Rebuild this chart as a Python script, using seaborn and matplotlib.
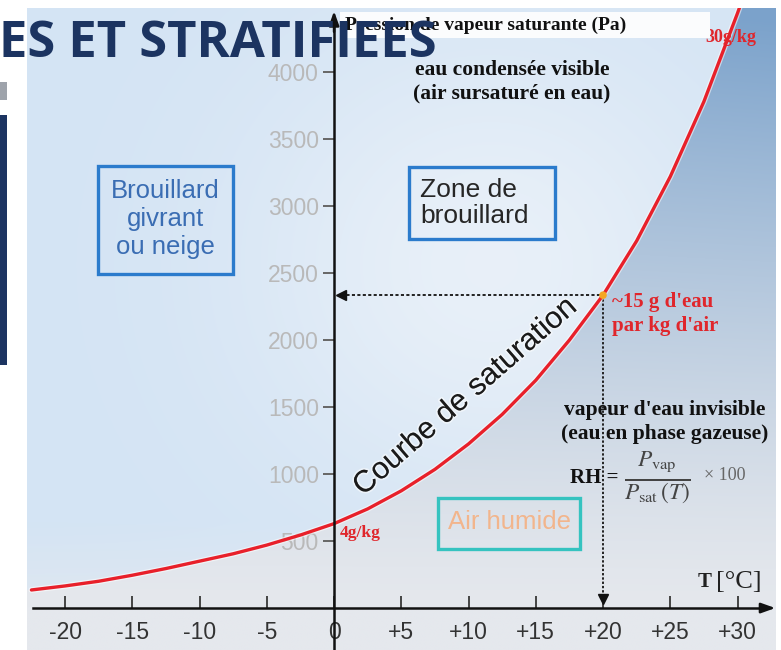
import numpy as np
import matplotlib
matplotlib.use("Agg")
import matplotlib.pyplot as plt
import matplotlib.patheffects as pe
from matplotlib.colors import to_rgb
from matplotlib.patches import Rectangle, PathPatch
from matplotlib.path import Path
import seaborn as sns

# Saturation vapour pressure of water (Pa) against temperature (°C)
temperature_c = [-22.5, -20, -17.5, -15, -12.5, -10, -7.5, -5, -2.5, 0, 2.5, 5,
                 7.5, 10, 12.5, 15, 17.5, 20, 22.5, 25, 27.5, 30, 31]
saturation_pa = [135, 165, 200, 245, 295, 350, 405, 470, 545, 630, 740, 875,
                 1035, 1225, 1445, 1700, 2000, 2335, 2740, 3220, 3780, 4440, 4720]

x_ticks = [-20, -15, -10, -5, 0, 5, 10, 15, 20, 25, 30]
x_tick_labels = ["-20", "-15", "-10", "-5", "0", "+5", "+10", "+15", "+20", "+25", "+30"]
y_ticks = [500, 1000, 1500, 2000, 2500, 3000, 3500, 4000]
y_tick_labels = ["500", "1000", "1500", "2000", "2500", "3000", "3500", "4000"]

reference_temp = 20
reference_pressure = saturation_pa[temperature_c.index(reference_temp)]

sns.set_theme(style="white")
plt.rcParams["font.family"] = ["Liberation Sans", "DejaVu Sans"]
plt.rcParams["mathtext.fontset"] = "stix"

W, H = 781, 650
fig = plt.figure(figsize=(W / 100, H / 100), dpi=100)
fig.patch.set_facecolor("white")


def F(x, y):
    """figure fraction from pixel position (origin top-left)"""
    return x / W, 1 - y / H


x_min, x_max = -22.83, 32.86
y_min, y_max = -313, 4478
ax = fig.add_axes([27 / W, 0, 749 / W, 642 / H])
ax.set_xlim(x_min, x_max)
ax.set_ylim(y_min, y_max)


def lerp(c1, c2, t):
    a = np.array(to_rgb(c1))
    b = np.array(to_rgb(c2))
    return a + (b - a) * t[..., None]


# sky background
gx = np.linspace(x_min, x_max, 400)
gy = np.linspace(y_min, y_max, 400)
GX, GY = np.meshgrid(gx, gy)
u = (GX - x_min) / (x_max - x_min)
v = (GY - y_min) / (y_max - y_min)
glow = 0.75 * np.exp(-((u - 0.62) / 0.32) ** 2 - ((v - 0.6) / 0.35) ** 2)
sky = lerp("#d4e4f4", "#eff4fa", np.clip(glow, 0, 1))
haze = np.clip((0.2 - v) / 0.2, 0, 1)
sky = sky * (1 - haze[..., None] * 0.8) + np.array(to_rgb("#e8eaee")) * haze[..., None] * 0.8
ax.imshow(sky, extent=[x_min, x_max, y_min, y_max], origin="lower",
          aspect="auto", zorder=0, interpolation="bilinear")

# unsaturated region (below / right of the curve)
depth = np.clip(GY / 4400, 0, 1) ** 1.3 * (0.85 + 0.15 * u)
under = lerp("#e5e8ed", "#7ba2cb", np.clip(depth, 0, 1))
im = ax.imshow(under, extent=[x_min, x_max, y_min, y_max], origin="lower",
               aspect="auto", zorder=0.5, interpolation="bilinear")
verts = list(zip(temperature_c, saturation_pa)) + [(x_max + 5, y_max + 500),
                                                   (x_max + 5, y_min - 100),
                                                   (x_min - 5, y_min - 100),
                                                   (x_min - 5, saturation_pa[0])]
region = PathPatch(Path(verts + [verts[0]], closed=True), transform=ax.transData,
                   facecolor="none", edgecolor="none")
ax.add_patch(region)
im.set_clip_path(region)

# saturation curve
sns.lineplot(x=temperature_c, y=saturation_pa, ax=ax, color="#e8202a", lw=2.4,
             zorder=4, path_effects=[pe.Stroke(linewidth=4.2, foreground=(1, 1, 1, 0.55)),
                                     pe.Normal()])

# axes through the origin
for side in ("top", "right"):
    ax.spines[side].set_visible(False)
ax.spines["left"].set_position(("data", 0))
ax.spines["bottom"].set_position(("data", 0))
for side in ("left", "bottom"):
    ax.spines[side].set_linewidth(1.8)
    ax.spines[side].set_color("#111111")
    ax.spines[side].set_zorder(5)
ax.spines["left"].set_bounds(y_min, 4380)
ax.spines["bottom"].set_bounds(-22.4, 32.2)
ax.annotate("", xy=(0, 4455), xytext=(0, 4300), annotation_clip=False, zorder=6,
            arrowprops=dict(arrowstyle="-|>,head_length=0.7,head_width=0.25",
                            color="#111111", lw=1.8, shrinkA=0, shrinkB=0))
ax.annotate("", xy=(x_max - 0.05, 0), xytext=(31.8, 0), annotation_clip=False, zorder=6,
            arrowprops=dict(arrowstyle="-|>,head_length=0.7,head_width=0.25",
                            color="#111111", lw=1.8, shrinkA=0, shrinkB=0))

ax.set_xticks(x_ticks, labels=x_tick_labels)
ax.set_yticks(y_ticks, labels=y_tick_labels)
ax.tick_params(axis="x", bottom=True, direction="in", length=9, width=1.4,
               color="#444444", pad=9, labelsize=16.5, labelcolor="#333333")
ax.tick_params(axis="y", left=True, direction="out", length=8, width=1.4,
               color="#666666", pad=3, labelsize=16.5, labelcolor="#b9b9b9")
ax.grid(False)

# reading of the 20 °C point
ax.plot([0.5, reference_temp], [reference_pressure, reference_pressure],
        ls=(0, (1.6, 1.2)), color="#222222", lw=1.4, zorder=3)
ax.plot([reference_temp, reference_temp], [reference_pressure, 60],
        ls=(0, (1.2, 1.0)), color="#222222", lw=1.4, zorder=3)
ax.plot([0.55], [reference_pressure], marker="<", ms=7, color="#111111", zorder=6)
ax.plot([reference_temp], [70], marker="v", ms=7, color="#111111", zorder=6)
sns.scatterplot(x=[reference_temp], y=[reference_pressure], ax=ax, color="#f5a623",
                s=30, zorder=7, edgecolor="none")

serif = ["Liberation Serif", "DejaVu Serif"]

# zone boxes
for (x0, y0, x1, y1, ec) in [(98, 166, 233, 274, "#2b7bcc"),
                             (409, 167, 555, 239, "#2b7bcc"),
                             (438, 498, 580, 549, "#35c3c0")]:
    fx0, fy1 = F(x0, y1)
    fx1, fy0 = F(x1, y0)
    fig.patches.append(Rectangle((fx0, fy1), fx1 - fx0, fy0 - fy1, transform=fig.transFigure,
                                 fill=False, edgecolor=ec, lw=2.4, zorder=8))

fig.text(*F(165, 219), "Brouillard\ngivrant\nou neige", ha="center", va="center",
         multialignment="center", fontsize=18.5, color="#3a6db3", linespacing=1.2, zorder=9)
fig.text(*F(420, 203), "Zone de\nbrouillard", ha="left", va="center",
         multialignment="left", fontsize=19, color="#262626", linespacing=1.15, zorder=9)
fig.text(*F(509, 522), "Air humide", ha="center", va="center",
         fontsize=18.5, color="#f2b58c", zorder=9)

fig.text(*F(465, 397), "Courbe de saturation", ha="center", va="center", rotation=41,
         rotation_mode="anchor", fontsize=22, color="#1a1a1a", zorder=9,
         path_effects=[pe.withStroke(linewidth=2.5, foreground=(1, 1, 1, 0.5))])

# annotations in serif
fig.text(*F(512, 82), "eau condensée visible\n(air sursaturé en eau)", ha="center",
         va="center", multialignment="center", family=serif, weight="bold",
         fontsize=15.5, color="#111111", linespacing=1.25, zorder=9)
fig.text(*F(665, 422), "vapeur d'eau invisible\n(eau en phase gazeuse)", ha="center",
         va="center", multialignment="center", family=serif, weight="bold",
         fontsize=15.5, color="#111111", linespacing=1.25, zorder=9)
fig.text(*F(612, 314), "~15 g d'eau\npar kg d'air", ha="left", va="center",
         family=serif, weight="bold", fontsize=15, color="#e0262c", linespacing=1.25, zorder=9)
fig.text(*F(340, 533), "4g/kg", ha="left", va="center", family=serif, weight="bold",
         fontsize=12.5, color="#e0262c", zorder=9)
fig.text(*F(705, 38), "30g/kg", ha="left", va="center", family=serif, weight="bold",
         fontsize=13, color="#e0262c", zorder=3)

fig.text(*F(570, 478), "RH =", ha="left", va="center", family=serif, weight="bold",
         fontsize=15, color="#111111", zorder=9)
fig.text(*F(624, 478), r"$\frac{P_{\mathrm{vap}}}{P_{\mathrm{sat}}\,(T)}$", ha="left",
         va="center", fontsize=24, color="#444444", zorder=9)
fig.text(*F(704, 476), "× 100", ha="left", va="center", family=serif,
         fontsize=13, color="#666666", zorder=9)

fig.text(*F(712, 582), "T", ha="right", va="center", family=serif, weight="bold",
         fontsize=15, color="#222222", zorder=9)
fig.text(*F(716, 582), "[°C]", ha="left", va="center", family=serif,
         fontsize=19, color="#222222", zorder=9)

# y-axis title on a white label
lx0, ly1 = F(340, 38)
lx1, ly0 = F(710, 12)
fig.patches.append(Rectangle((lx0, ly1), lx1 - lx0, ly0 - ly1, transform=fig.transFigure,
                             facecolor="#fbfcfd", edgecolor="none", zorder=8))
fig.text(*F(345, 25), "Pression de vapeur saturante (Pa)", ha="left", va="center",
         family=serif, weight="bold", fontsize=14, color="#111111", zorder=9)

# slide decorations
for (x0, y0, x1, y1, c) in [(0, 82, 7, 100, "#9ea3ab"), (0, 115, 7, 365, "#1c3461")]:
    fx0, fy1 = F(x0, y1)
    fx1, fy0 = F(x1, y0)
    fig.patches.append(Rectangle((fx0, fy1), fx1 - fx0, fy0 - fy1, transform=fig.transFigure,
                                 facecolor=c, edgecolor="none", zorder=10))
fig.text(*F(-1, 57), "ES ET STRATIFIEES", ha="left", va="baseline",
         family=["Open Sans", "DejaVu Sans"], weight="bold", fontsize=36.5,
         color="#1c3461", zorder=20)

fig.savefig("out.png", dpi=100)
